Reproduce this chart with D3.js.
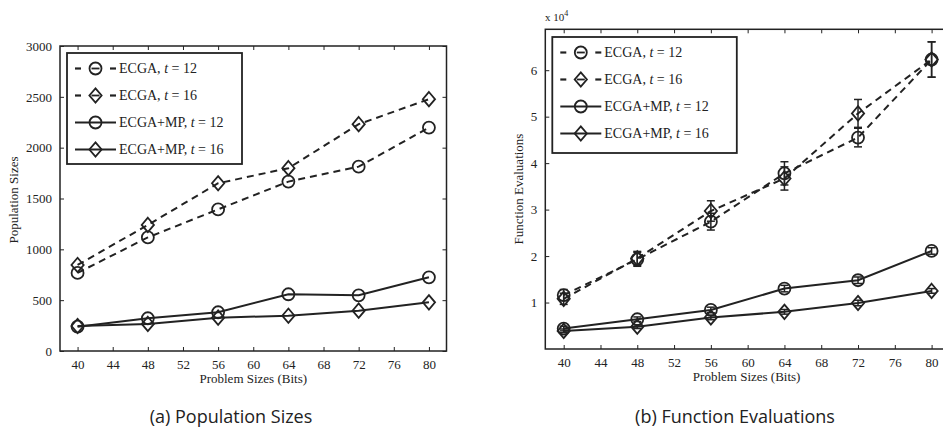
<!DOCTYPE html>
<html>
<head>
<meta charset="utf-8">
<script src="https://cdn.jsdelivr.net/npm/d3@7"></script>
<style>
  body { margin: 0; background: #fff; }
  svg text { fill: #222; }
  .tick text { font-family: "Liberation Serif", serif; font-size: 13px; fill: #222; }
</style>
</head>
<body>
<svg width="943" height="430"></svg>
<script>
// problem sizes (bits)
const bits = [40, 48, 56, 64, 72, 80];
const xTicks = [40, 44, 48, 52, 56, 60, 64, 68, 72, 76, 80];

// (a) population sizes
const popEcga12 = [768, 1117, 1393, 1666, 1813, 2198];
const popEcga16 = [846, 1240, 1650, 1798, 2231, 2477];
const popMp12 = [239, 322, 381, 558, 548, 725];
const popMp16 = [246, 266, 328, 347, 397, 479];
const popTicks = [0, 500, 1000, 1500, 2000, 2500, 3000];

// (b) function evaluations (x 10^4)
const feEcga12 = [1.16, 1.93, 2.74, 3.78, 4.55, 6.23];
const feEcga16 = [1.08, 1.95, 2.97, 3.67, 5.07, 6.23];
const feMp12 = [0.44, 0.64, 0.84, 1.30, 1.48, 2.11];
const feMp16 = [0.39, 0.48, 0.68, 0.80, 0.99, 1.25];
const feErrEcga12 = [0.12, 0.15, 0.18, 0.25, 0.20, 0.38];
const feErrEcga16 = [0.12, 0.15, 0.22, 0.25, 0.30, 0.38];
const feErrMp12 = [0.05, 0.05, 0.06, 0.07, 0.07, 0.07];
const feErrMp16 = [0.04, 0.04, 0.05, 0.05, 0.06, 0.05];
const feTicks = [1, 2, 3, 4, 5, 6];

const legendNames = ['ECGA, ', 'ECGA, ', 'ECGA+MP, ', 'ECGA+MP, '];
const legendT = ['12', '16', '12', '16'];
const ink = '#222';

const svg = d3.select('svg');

function drawMarker(g, type, x, y, r) {
    if (type === 'circle') {
        g.append('circle').attr('cx', x).attr('cy', y).attr('r', r)
            .attr('fill', 'none').attr('stroke', ink).attr('stroke-width', 1.8);
    } else {
        const d = r * 1.2;
        g.append('path')
            .attr('d', `M${x},${y - d}L${x + d * 0.85},${y}L${x},${y + d}L${x - d * 0.85},${y}Z`)
            .attr('fill', 'none').attr('stroke', ink).attr('stroke-width', 1.8);
    }
}

function panel(opt) {
    const g = svg.append('g');
    const x = d3.scaleLinear().domain([38, 82]).range([opt.left, opt.right]);
    const y = d3.scaleLinear().domain(opt.yDomain).range([opt.bottom, opt.top]);

    // box
    g.append('rect')
        .attr('x', opt.left).attr('y', opt.top)
        .attr('width', opt.right - opt.left).attr('height', opt.bottom - opt.top)
        .attr('fill', 'none').attr('stroke', ink).attr('stroke-width', 1.5);

    // axes with inward ticks
    const xb = g.append('g').attr('transform', `translate(0,${opt.bottom})`)
        .call(d3.axisBottom(x).tickValues(xTicks).tickSizeInner(-4).tickSizeOuter(0).tickPadding(9));
    const xt = g.append('g').attr('transform', `translate(0,${opt.top})`)
        .call(d3.axisTop(x).tickValues(xTicks).tickSizeInner(-4).tickSizeOuter(0).tickFormat(''));
    const yl = g.append('g').attr('transform', `translate(${opt.left},0)`)
        .call(d3.axisLeft(y).tickValues(opt.yTicks).tickFormat(d3.format('d'))
            .tickSizeInner(-4).tickSizeOuter(0).tickPadding(8));
    const yr = g.append('g').attr('transform', `translate(${opt.right},0)`)
        .call(d3.axisRight(y).tickValues(opt.yTicks).tickSizeInner(-4).tickSizeOuter(0).tickFormat(''));
    [xb, xt, yl, yr].forEach(a => {
        a.select('.domain').remove();
        a.selectAll('line').attr('stroke', ink);
    });

    // series
    const line = d3.line().x((d, i) => x(bits[i])).y(d => y(d));
    opt.series.forEach(s => {
        g.append('path').datum(s.values)
            .attr('d', line)
            .attr('fill', 'none').attr('stroke', ink).attr('stroke-width', 2)
            .attr('stroke-dasharray', s.dashed ? '7,5' : null);
        if (s.err) {
            s.values.forEach((v, i) => {
                const cx = x(bits[i]);
                const y0 = y(v - s.err[i]), y1 = y(v + s.err[i]);
                g.append('line').attr('x1', cx).attr('x2', cx).attr('y1', y0).attr('y2', y1)
                    .attr('stroke', ink).attr('stroke-width', 1.5);
                [y0, y1].forEach(yy => g.append('line')
                    .attr('x1', cx - 4).attr('x2', cx + 4).attr('y1', yy).attr('y2', yy)
                    .attr('stroke', ink).attr('stroke-width', 1.5));
            });
        }
        s.values.forEach((v, i) => drawMarker(g, s.marker, x(bits[i]), y(v), 6));
    });

    // legend
    const lg = opt.legend;
    g.append('rect').attr('x', lg.x).attr('y', lg.y).attr('width', lg.w).attr('height', lg.h)
        .attr('fill', '#fff').attr('stroke', ink).attr('stroke-width', 1.8);
    opt.series.forEach((s, i) => {
        const ly = lg.y + 15.5 + i * 27;
        const x0 = lg.x + 8, x1 = lg.x + 49, mx = (x0 + x1) / 2;
        if (s.dashed) {
            g.append('line').attr('x1', x0).attr('x2', x0 + 6).attr('y1', ly).attr('y2', ly)
                .attr('stroke', ink).attr('stroke-width', 2.2);
            g.append('line').attr('x1', x1 - 6).attr('x2', x1).attr('y1', ly).attr('y2', ly)
                .attr('stroke', ink).attr('stroke-width', 2.2);
            g.append('line').attr('x1', mx - 4).attr('x2', mx + 4).attr('y1', ly).attr('y2', ly)
                .attr('stroke', ink).attr('stroke-width', 1.8);
        } else {
            g.append('line').attr('x1', x0).attr('x2', x1).attr('y1', ly).attr('y2', ly)
                .attr('stroke', ink).attr('stroke-width', 2.2);
        }
        drawMarker(g, s.marker, mx, ly, 6);
        const t = g.append('text').attr('x', x1 + 3).attr('y', ly).attr('dy', '0.35em')
            .attr('font-family', '"Liberation Serif", serif').attr('font-size', 14);
        t.append('tspan').text(legendNames[i]);
        t.append('tspan').attr('font-style', 'italic').text('t');
        t.append('tspan').text(' = ' + legendT[i]);
    });

    // axis labels
    g.append('text').attr('x', (opt.left + opt.right) / 2 + opt.xLabelShift).attr('y', opt.bottom + 32)
        .attr('text-anchor', 'middle').attr('font-family', '"Liberation Serif", serif').attr('font-size', 13)
        .text('Problem Sizes (Bits)');
    g.append('text')
        .attr('transform', `translate(${opt.yLabelX},${opt.yLabelY}) rotate(-90)`)
        .attr('text-anchor', 'middle').attr('font-family', '"Liberation Serif", serif').attr('font-size', 13)
        .text(opt.yLabel);

    // caption
    g.append('text').attr('x', opt.captionX).attr('y', 423)
        .attr('text-anchor', 'middle').attr('font-family', '"Open Sans", sans-serif').attr('font-size', 18)
        .text(opt.caption);
    return g;
}

panel({
    left: 60, right: 446.5, top: 46, bottom: 351,
    yDomain: [0, 3000], yTicks: popTicks,
    series: [
        { values: popEcga12, marker: 'circle', dashed: true },
        { values: popEcga16, marker: 'diamond', dashed: true },
        { values: popMp12, marker: 'circle', dashed: false },
        { values: popMp16, marker: 'diamond', dashed: false }
    ],
    legend: { x: 67, y: 53, w: 175, h: 111 },
    xLabelShift: 0, yLabelX: 18, yLabelY: 200, yLabel: 'Population Sizes',
    caption: '(a) Population Sizes', captionX: 231
});

const right = panel({
    left: 545.3, right: 950, top: 29.3, bottom: 349,
    yDomain: [0, 6.88], yTicks: feTicks,
    series: [
        { values: feEcga12, marker: 'circle', dashed: true, err: feErrEcga12 },
        { values: feEcga16, marker: 'diamond', dashed: true, err: feErrEcga16 },
        { values: feMp12, marker: 'circle', dashed: false, err: feErrMp12 },
        { values: feMp16, marker: 'diamond', dashed: false, err: feErrMp16 }
    ],
    legend: { x: 552.3, y: 37, w: 184.5, h: 116 },
    xLabelShift: -1, yLabelX: 523, yLabelY: 189, yLabel: 'Function Evaluations',
    caption: '(b) Function Evaluations', captionX: 735
});

// exponent label
const ex = right.append('text').attr('x', 545).attr('y', 21)
    .attr('font-family', '"Liberation Serif", serif').attr('font-size', 11);
ex.append('tspan').text('x 10');
ex.append('tspan').attr('dy', -5).attr('font-size', 8).text('4');
</script>
</body>
</html>
